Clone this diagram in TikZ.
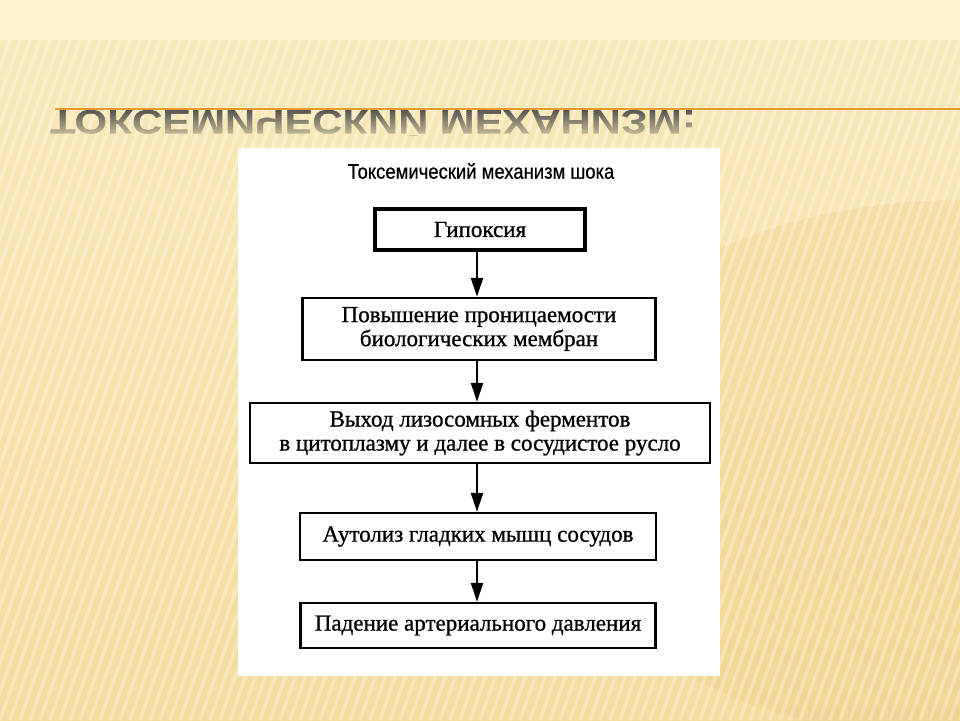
\documentclass[tikz,border=0pt]{standalone}
\usepackage{fontspec}
\usepackage{graphicx}
\setmainfont{Liberation Serif}
\newfontfamily\boxfam[FakeBold=0.9]{Liberation Serif}
\newfontfamily\sansfam{Liberation Sans}
\newfontfamily\titlefam[FakeBold=0.6]{Liberation Sans}
\usetikzlibrary{arrows.meta}
\definecolor{bgtop}{HTML}{FCF1CF}
\definecolor{bgmid}{HTML}{F9E9BA}
\definecolor{bgbot}{HTML}{F3DB9C}
\definecolor{bgpatch}{HTML}{EECF85}
\definecolor{orangeline}{HTML}{E49D2C}
\definecolor{reftext}{HTML}{555350}
\tikzset{
  stepbox/.style={draw=black, line width=2.4pt, fill=white, align=center, inner sep=0pt,
    font=\boxfam\fontsize{23}{24}\selectfont},
  arr/.style={line width=2.4pt, -{Triangle[length=19pt,width=12pt]}},
}
\begin{document}
\begin{tikzpicture}[x=1pt,y=-1pt]
\useasboundingbox (0,0) rectangle (960,720);
% background
\fill[bgtop] (0,0) rectangle (960,720);
\shade[top color=bgmid, bottom color=bgbot] (0,40) rectangle (960,720);
\fill[bgpatch, opacity=0.35] (960,470) ellipse [x radius=420, y radius=270];
\begin{scope}
  \clip (0,40) rectangle (960,720);
  \foreach \x in {-320,-310,...,960} {
    \draw[white, opacity=0.3, line width=3.5pt] (\x,720) -- (\x+240,40);
  }
\end{scope}
% reflected title
\foreach \i in {0,...,12} {
  \pgfmathsetmacro{\shadeamt}{100-5.5*\i}
  \begin{scope}
    \clip (0,109+2*\i) rectangle (960,111+2*\i);
    \node[text=reftext!\shadeamt!bgmid, anchor=north west, inner sep=0pt,
      font=\sansfam\bfseries\fontsize{34}{35}\selectfont] (refl\i) at (50,110)
      {\scalebox{1.23}[-1]{ТОКСЕМИЧЕСКИЙ МЕХАНИЗМ:}};
  \end{scope}
}
\draw[orangeline, line width=2pt] (55,108.5) -- (960,108.5);
% picture panel
\fill[white] (238,148) rectangle (720,676);
\node[font=\titlefam\fontsize{21}{22}\selectfont, inner sep=0pt] (title) at (481,171)
  {\scalebox{0.88}[1]{Токсемический механизм шока}};
\node[stepbox, line width=3.4pt, minimum width=210, minimum height=41] (b1) at (480,229.5) {Гипоксия};
\node[stepbox, minimum width=353, minimum height=62] (b2) at (479,329) {Повышение проницаемости\\биологических мембран};
\node[stepbox, minimum width=460, minimum height=60] (b3) at (480,433) {Выход лизосомных ферментов\\в цитоплазму и далее в сосудистое русло};
\node[stepbox, minimum width=356, minimum height=47] (b4) at (478,536.5) {Аутолиз гладких мышц сосудов};
\node[stepbox, minimum width=355, minimum height=45] (b5) at (478,625.5) {Падение артериального давления};
\draw[arr] (b1.south -| 477,0) -- (b2.north -| 477,0);
\draw[arr] (b2.south -| 477,0) -- (b3.north -| 477,0);
\draw[arr] (b3.south -| 477,0) -- (b4.north -| 477,0);
\draw[arr] (b4.south -| 477,0) -- (b5.north -| 477,0);
\end{tikzpicture}
\end{document}
